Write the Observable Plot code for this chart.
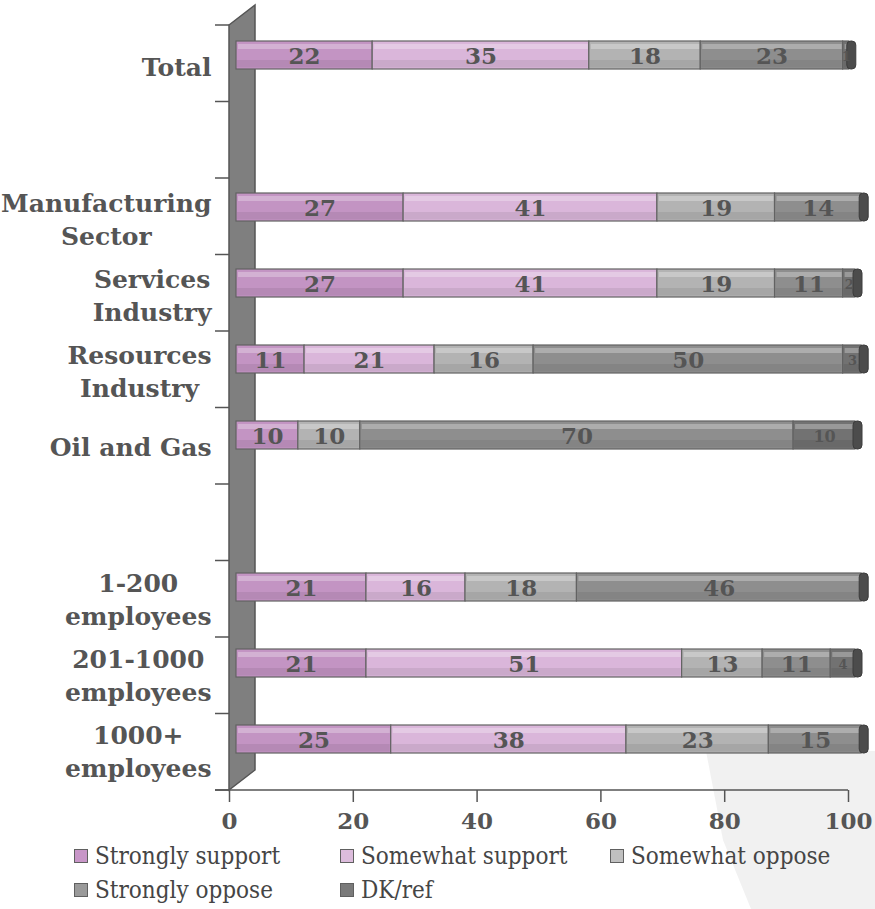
<!DOCTYPE html>
<html>
<head>
<meta charset="utf-8">
<script src="https://cdn.jsdelivr.net/npm/d3@7"></script>
<script src="https://cdn.jsdelivr.net/npm/@observablehq/plot@0.6"></script>
<style>
  html, body { margin: 0; padding: 0; background: #fff; }
  body { width: 875px; height: 909px; position: relative; overflow: hidden; font-family: "DejaVu Serif", serif; }
  #bg { position: absolute; left: 0; top: 0; width: 875px; height: 909px; background: #f1f1f1;
        clip-path: polygon(706px 751px, 875px 751px, 875px 909px, 751px 909px, 723px 840px); z-index: 0; }
  #chart { position: absolute; left: 0; top: 0; z-index: 1; }
  #legend { position: absolute; left: 0; top: 0; width: 875px; height: 909px; z-index: 2; pointer-events: none; }
  .item { position: absolute; display: flex; align-items: center; font-family: "DejaVu Serif Condensed", "DejaVu Serif", serif;
          font-stretch: condensed; font-size: 24px; line-height: 24px; height: 24px; color: #454545; white-space: nowrap; }
  .sw { width: 14px; height: 14px; border: 1.5px solid #606060; margin-right: 7px; box-sizing: border-box; }
</style>
</head>
<body>
<div id="bg"></div>
<div id="chart"></div>
<div id="legend"></div>
<script>
// ---- data ----
const rowKeys = ["Total", "gap1", "Manufacturing Sector", "Services Industry", "Resources Industry",
                 "Oil and Gas", "gap2", "1-200 employees", "201-1000 employees", "1000+ employees"];
const rowLabels = ["Total", "", "Manufacturing\nSector", "Services\nIndustry", "Resources\nIndustry",
                   "Oil and Gas", "", "1-200\nemployees", "201-1000\nemployees", "1000+\nemployees"];
const seriesNames = ["Strongly support", "Somewhat support", "Somewhat oppose", "Strongly oppose", "DK/ref"];
const stronglySupport = [22, null, 27, 27, 11, 10, null, 21, 21, 25];
const somewhatSupport = [35, null, 41, 41, 21, 0, null, 16, 51, 38];
const somewhatOppose  = [18, null, 19, 19, 16, 10, null, 18, 13, 23];
const stronglyOppose  = [23, null, 14, 11, 50, 70, null, 46, 11, 15];
const dkRef           = [1, null, 0, 2, 3, 10, null, 0, 4, 0];
const xTicks = [0, 20, 40, 60, 80, 100];

// ---- styles ----
const seriesColors = ["#c394c3", "#dab6da", "#b3b3b3", "#8e8e8e", "#727272"];
const legendColors = ["#c896c8", "#dcbcdc", "#c0c0c0", "#9a9a9a", "#7a7a7a"];

const seriesValues = [stronglySupport, somewhatSupport, somewhatOppose, stronglyOppose, dkRef];
const segs = [];
const totals = [];
rowKeys.forEach((k, i) => {
  let acc = 0;
  let any = false;
  seriesNames.forEach((s, j) => {
    const v = seriesValues[j][i];
    if (v == null) return;
    any = true;
    if (v > 0) segs.push({row: k, series: s, value: v, x1: acc, x2: acc + v, mid: acc + v / 2});
    acc += v;
  });
  if (any) totals.push({row: k, total: acc});
});

const W = 875, H = 838;
const DX = 7, DY = -10;

function wall(index, scales, values, dims) {
  const g = d3.create("svg:g");
  const x0 = scales.x(0);
  const top = dims.marginTop, bot = dims.height - dims.marginBottom;
  const depth = 26, rise = 20;
  g.append("polygon")
    .attr("points", `${x0},${top} ${x0 + depth},${top - rise} ${x0 + depth},${bot - rise} ${x0},${bot}`)
    .attr("fill", "#7f7f7f").attr("stroke", "#555").attr("stroke-width", 1.5);
  const n = rowKeys.length;
  const step = (bot - top) / n;
  for (let i = 0; i <= n; i++) {
    const y = top + i * step;
    g.append("line").attr("x1", x0 - 14).attr("x2", x0).attr("y1", y).attr("y2", y)
      .attr("stroke", "#555").attr("stroke-width", 1.5);
  }
  g.append("line").attr("x1", x0 - 14).attr("x2", scales.x(100)).attr("y1", bot).attr("y2", bot)
    .attr("stroke", "#555").attr("stroke-width", 1.5);
  return g.node();
}

const LABEL_FONT = 25;
const ctx = document.createElement("canvas").getContext("2d");
ctx.font = `bold ${LABEL_FONT}px 'DejaVu Serif'`;
const labelAxes = [];
rowKeys.forEach((k, i) => {
  const lab = rowLabels[i];
  if (!lab) return;
  const w = Math.max(...lab.split("\n").map(s => ctx.measureText(s).width));
  labelAxes.push(Plot.axisY({
    ticks: [k], label: null, tickSize: 0, tickPadding: 18 + w / 2, textAnchor: "middle",
    tickFormat: () => lab, fontSize: LABEL_FONT, fontWeight: "bold", lineHeight: 1.32, fill: "#555"
  }));
});

const chart = Plot.plot({
  width: W, height: H,
  marginLeft: 229, marginRight: 27, marginTop: 25, marginBottom: H - 790,
  style: {background: "transparent", fontFamily: "DejaVu Serif", color: "#555", overflow: "visible"},
  x: {domain: [0, 100], axis: null},
  y: {domain: rowKeys, paddingInner: 0.63, paddingOuter: 0.315, axis: null},
  color: {domain: seriesNames, range: seriesColors},
  marks: [
    wall,
    Plot.axisX({ticks: xTicks, label: null, tickSize: 12, tickPadding: 10, fontSize: 23, fontWeight: "bold", fill: "#555", stroke: "#555", strokeWidth: 1.5}),
    ...labelAxes,
    Plot.barX(segs, {x1: "x1", x2: "x2", y: "row", fill: "series", stroke: "#626262", strokeWidth: 1.2, dx: DX, dy: DY}),
    Plot.barX(segs, {x1: "x1", x2: "x2", y: "row", fill: "white", fillOpacity: 0.28, insetTop: 3, insetBottom: 20, insetLeft: 2, insetRight: 1, dx: DX, dy: DY}),
    Plot.barX(segs, {x1: "x1", x2: "x2", y: "row", fill: "black", fillOpacity: 0.07, insetTop: 19, insetBottom: 1.5, insetLeft: 1, insetRight: 1, dx: DX, dy: DY}),
    Plot.barX(totals, {x1: "total", x2: "total", y: "row", insetLeft: -2, insetRight: -7, rx: 4, fill: "#4c4c4c", stroke: "#3c3c3c", dx: DX, dy: DY}),
    Plot.text(segs, {x: "mid", y: "row", text: d => String(d.value),
      fontSize: d => d.series === "DK/ref" ? (d.value >= 10 ? 16 : 13) : 23,
      fontWeight: "bold", fill: "#555", dx: DX, dy: DY + 1})
  ]
});
document.getElementById("chart").appendChild(chart);

// legend
const legendPos = [[74, 844], [340, 844], [610, 844], [74, 878], [340, 878]];
const leg = document.getElementById("legend");
seriesNames.forEach((s, i) => {
  const d = document.createElement("div");
  d.className = "item";
  d.style.left = legendPos[i][0] + "px";
  d.style.top = legendPos[i][1] + "px";
  const sw = document.createElement("span");
  sw.className = "sw";
  sw.style.background = legendColors[i];
  const t = document.createElement("span");
  t.textContent = s;
  d.appendChild(sw); d.appendChild(t);
  leg.appendChild(d);
});
</script>
</body>
</html>
